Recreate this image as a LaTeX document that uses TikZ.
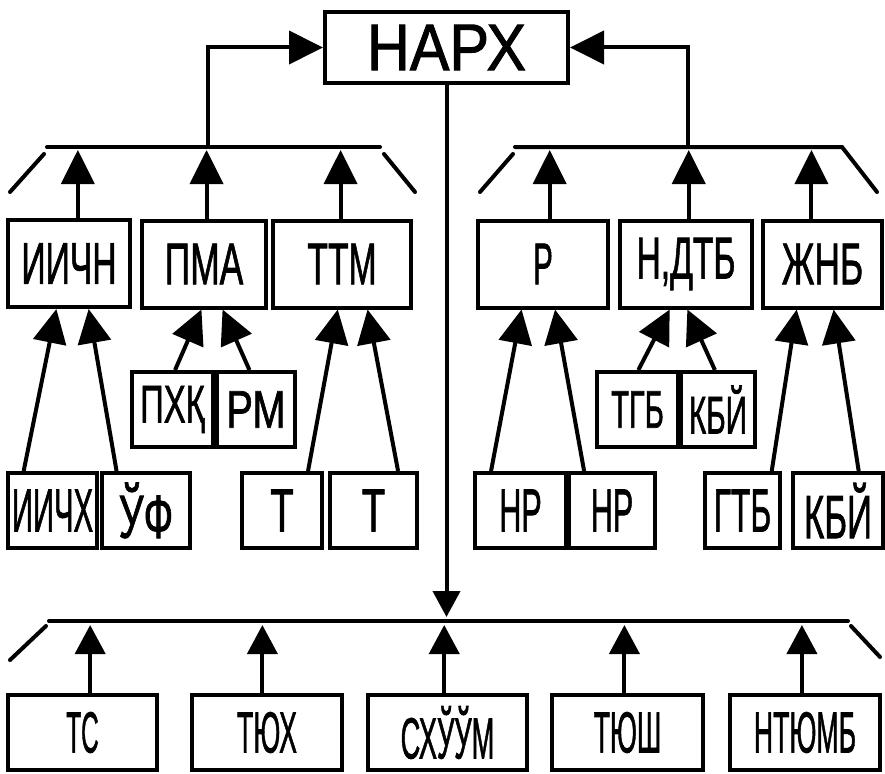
\documentclass[tikz,border=0pt]{standalone}
\usepackage{fontspec}
\usepackage{graphicx}
\usetikzlibrary{arrows.meta,calc}
\newfontfamily\labfont[FakeBold=1.5]{Liberation Sans}
\newcommand\tx[3]{{\fontsize{#1}{#1}\selectfont\scalebox{#2}[1]{#3}}}
\begin{document}
\begin{tikzpicture}[x=1pt,y=-1pt,
  box/.style={draw, line width=4pt, inner sep=0pt, font=\labfont},
  bar/.style={line width=4pt, line cap=round},
  arr/.style={line width=4pt, -{Triangle[length=34pt,width=33pt]}},
  arrs/.style={line width=4pt, -{Triangle[length=29pt,width=30pt]}},
  arrd/.style={line width=4pt, -{Triangle[length=26pt,width=27pt]}}]
\useasboundingbox (0,0) rectangle (885,773);

% top node
\node[box, minimum width=243pt, minimum height=71pt] (narx) at (446.5,47.5) {\tx{66}{0.9}{НАРХ}};

% second row
\node[box, minimum width=122pt, minimum height=87pt] (iichn) at (69,263.5) {\tx{59}{0.57}{ИИЧН}};
\node[box, minimum width=124pt, minimum height=87pt] (pma) at (204,264) {\tx{59}{0.6}{ПМА}};
\node[box, minimum width=138pt, minimum height=87pt] (ttm) at (342,264) {\tx{59}{0.57}{ТТМ}};
\node[box, minimum width=130pt, minimum height=87pt] (r) at (543,264) {\tx{59}{0.5}{Р}};
\node[box, minimum width=132pt, minimum height=87pt] (ndtb) at (686,264) {\tx{59}{0.57}{Н,ДТБ}};
\node[box, minimum width=119pt, minimum height=87pt] (zhnb) at (822.5,264) {\tx{59}{0.6}{ЖНБ}};

% middle row
\node[box, minimum width=81pt, minimum height=75pt] (pxq) at (172.5,409.5) {\tx{53}{0.62}{ПХҚ}};
\node[box, minimum width=78pt, minimum height=75pt] (rm) at (256,409.5) {\tx{53}{0.75}{РМ}};
\node[box, minimum width=81pt, minimum height=75pt] (tgb) at (637.5,409.5) {\tx{53}{0.55}{ТГБ}};
\node[box, minimum width=74pt, minimum height=75pt] (kbj) at (718,409.5) {\tx{53}{0.56}{КБЙ}};

% fourth row
\node[box, minimum width=89pt, minimum height=75pt] (iichx) at (52.5,510.5) {\tx{61}{0.48}{ИИЧХ}};
\node[box, minimum width=88pt, minimum height=75pt] (uf) at (146,510.5) {\tx{61}{0.64}{ЎФ}};
\node[box, minimum width=80pt, minimum height=75pt] (t1) at (282,510.5) {\tx{61}{0.63}{Т}};
\node[box, minimum width=87pt, minimum height=75pt] (t2) at (373.5,510.5) {\tx{61}{0.63}{Т}};
\node[box, minimum width=91pt, minimum height=75pt] (nr1) at (520.5,510.5) {\tx{61}{0.5}{НР}};
\node[box, minimum width=86pt, minimum height=75pt] (nr2) at (612,510.5) {\tx{61}{0.5}{НР}};
\node[box, minimum width=75pt, minimum height=75pt] (gtb) at (742.5,510.5) {\tx{61}{0.52}{ГТБ}};
\node[box, minimum width=90pt, minimum height=75pt] (kbj2) at (838,510.5) {\tx{61}{0.57}{КБЙ}};

% bottom row
\node[box, minimum width=149pt, minimum height=75pt] (ts) at (82.5,732.5) {\tx{58}{0.42}{ТС}};
\node[box, minimum width=150pt, minimum height=75pt] (tyux) at (267,732.5) {\tx{58}{0.46}{ТЮХ}};
\node[box, minimum width=159pt, minimum height=75pt] (sxuum) at (447.5,732.5) {\tx{58}{0.47}{СХЎЎМ}};
\node[box, minimum width=151pt, minimum height=75pt] (tyush) at (627.5,732.5) {\tx{58}{0.46}{ТЮШ}};
\node[box, minimum width=150pt, minimum height=75pt] (ntyumb) at (805,732.5) {\tx{58}{0.46}{НТЮМБ}};

% bars
\coordinate (barL) at (47,147);
\coordinate (barR) at (515,147);
\coordinate (barB) at (49,621);
\draw[bar] (47,147) -- (380,147);
\draw[bar] (44,154) -- (10,192);
\draw[bar] (384,154) -- (415,192);
\draw[bar] (515,147) -- (842,147) -- (877,192);
\draw[bar] (513,154) -- (480,192);
\draw[bar] (49,621) -- (848,621);
\draw[bar] (46,626) -- (10,660);
\draw[bar] (851,626) -- (880,657);

% arrows up into the top bars
\coordinate (u1) at ($(iichn.north west)!0.57!(iichn.north east)$);
\coordinate (u2) at ($(pma.north west)!0.52!(pma.north east)$);
\coordinate (u3) at ($(ttm.north west)!0.49!(ttm.north east)$);
\coordinate (u4) at ($(r.north west)!0.55!(r.north east)$);
\coordinate (u5) at ($(ndtb.north west)!0.52!(ndtb.north east)$);
\coordinate (u6) at ($(zhnb.north west)!0.41!(zhnb.north east)$);
\foreach \u in {u1,u2,u3} \draw[arr] (\u) -- ($(\u |- barL)+(0,3)$);
\foreach \u in {u4,u5,u6} \draw[arr] (\u) -- ($(\u |- barR)+(0,3)$);

% arrows from bars to the top node
\coordinate (lup) at (208,147);
\coordinate (rup) at (688,147);
\draw[arr] (lup) |- (narx.west);
\draw[arr] (rup) |- (narx.east);

% main down arrow
\draw[arrd] (narx.south) -- ($(narx.south |- barB)+(0,-4)$);

% arrows from bottom boxes up to bottom bar
\coordinate (b1) at ($(ts.north west)!0.55!(ts.north east)$);
\coordinate (b2) at ($(tyux.north west)!0.47!(tyux.north east)$);
\coordinate (b3) at ($(sxuum.north west)!0.48!(sxuum.north east)$);
\coordinate (b4) at ($(tyush.north west)!0.48!(tyush.north east)$);
\coordinate (b5) at ($(ntyumb.north west)!0.48!(ntyumb.north east)$);
\foreach \u in {b1,b2,b3,b4,b5} \draw[arrs] (\u) -- ($(\u |- barB)+(0,4)$);

% lower arrows
\draw[arr] ($(iichx.north west)!0.19!(iichx.north east)$) -- ($(iichn.south west)!0.40!(iichn.south east)$);
\draw[arr] ($(uf.north west)!0.18!(uf.north east)$) -- ($(iichn.south west)!0.656!(iichn.south east)$);
\draw[arr] ($(pxq.north west)!0.53!(pxq.north east)$) -- ($(pma.south west)!0.48!(pma.south east)$);
\draw[arr] ($(rm.north west)!0.42!(rm.north east)$) -- ($(pma.south west)!0.645!(pma.south east)$);
\draw[arr] ($(t1.north west)!0.81!(t1.north east)$) -- ($(ttm.south west)!0.47!(ttm.south east)$);
\draw[arr] ($(t2.north west)!0.77!(t2.north east)$) -- ($(ttm.south west)!0.68!(ttm.south east)$);
\draw[arr] ($(nr1.north west)!0.19!(nr1.north east)$) -- ($(r.south west)!0.34!(r.south east)$);
\draw[arr] ($(nr2.north west)!0.19!(nr2.north east)$) -- ($(r.south west)!0.59!(r.south east)$);
\draw[arr] ($(tgb.north west)!0.51!(tgb.north east)$) -- ($(ndtb.south west)!0.38!(ndtb.south east)$);
\draw[arr] ($(kbj.north west)!0.46!(kbj.north east)$) -- ($(ndtb.south west)!0.51!(ndtb.south east)$);
\draw[arr] ($(gtb.north west)!0.87!(gtb.north east)$) -- ($(zhnb.south west)!0.29!(zhnb.south east)$);
\draw[arr] ($(kbj2.north west)!0.72!(kbj2.north east)$) -- ($(zhnb.south west)!0.59!(zhnb.south east)$);
\end{tikzpicture}
\end{document}
